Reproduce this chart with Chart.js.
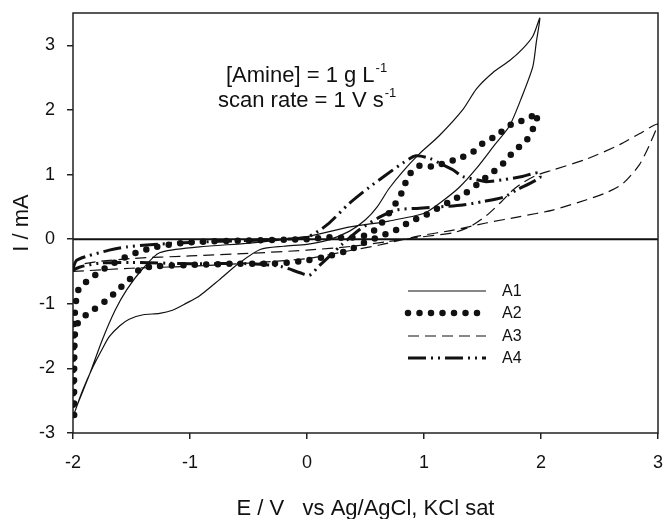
<!DOCTYPE html>
<html>
<head>
<meta charset="utf-8">
<script src="https://cdn.jsdelivr.net/npm/chart.js@4"></script>
<style>
html,body{margin:0;padding:0;background:#fff;}
#wrap{width:664px;height:519px;position:relative;}
</style>
</head>
<body>
<div id="wrap"><canvas id="chart"></canvas></div>
<script>
/* Cyclic voltammograms A1..A4, E (V vs Ag/AgCl) against I (mA)
   values, one x/y array pair per curve */
const seriesNames = ["A1", "A2", "A3", "A4"];
const xTicks = [-2, -1, 0, 1, 2, 3];
const yTicks = [-3, -2, -1, 0, 1, 2, 3];

const a1E = [-1.99,-1.92,-1.83,-1.75,-1.69,-1.6,-1.52,-1.4,-1.26,-1.15,-1.03,-0.92,-0.75,-0.58,-0.4,-0.2,0,0.17,0.36,0.5,0.6,0.7,0.82,0.96,1.13,1.33,1.45,1.59,1.73,1.84,1.93,1.99,
             1.96,1.93,1.84,1.73,1.6,1.45,1.3,1.15,1.0,0.7,0.37,0,-0.49,-0.92,-1.26,-1.41,-1.54,-1.64,-1.75,-1.86,-1.96,-1.99];
const a1I = [-2.7,-2.35,-1.98,-1.7,-1.51,-1.34,-1.24,-1.17,-1.15,-1.1,-0.99,-0.88,-0.63,-0.37,-0.16,-0.11,-0.08,-0.02,0.12,0.3,0.5,0.78,1.05,1.32,1.6,2.0,2.33,2.58,2.76,2.94,3.14,3.42,
             3.05,2.67,2.22,1.75,1.45,1.1,0.8,0.58,0.4,0.28,0.19,0.04,-0.06,-0.12,-0.21,-0.47,-0.78,-1.1,-1.56,-2.1,-2.55,-2.7];

const a2E = [-1.99,-1.99,-1.98,-1.94,-1.83,-1.71,-1.6,-1.52,-1.43,-1.3,-1.0,-0.6,-0.3,0,0.19,0.36,0.48,0.62,0.76,0.88,1.02,1.13,1.22,1.36,1.45,1.56,1.65,1.76,1.88,1.93,1.97,1.97,
             1.9,1.82,1.73,1.66,1.59,1.5,1.42,1.33,1.25,1.16,1.08,0.99,0.92,0.86,0.81,0.76,0.7,0.6,0.5,0.35,0.19,0,-0.5,-1.0,-1.29,-1.46,-1.6,-1.77,-1.86,-1.94,-1.97,-1.99,-2.0,-2.0];
const a2I = [-2.72,-2.0,-1.4,-1.25,-1.1,-0.94,-0.76,-0.63,-0.47,-0.42,-0.4,-0.38,-0.38,-0.33,-0.26,-0.17,-0.06,0.04,0.14,0.27,0.38,0.49,0.58,0.72,0.84,1.0,1.12,1.34,1.54,1.7,1.9,1.95,
             1.88,1.82,1.76,1.66,1.57,1.48,1.35,1.27,1.22,1.17,1.12,1.15,1.1,0.95,0.72,0.56,0.4,0.17,0.06,0.02,0.03,0.0,-0.02,-0.05,-0.12,-0.21,-0.32,-0.5,-0.63,-0.73,-0.9,-1.3,-2.0,-2.72];

const a3E = [-2,-1.5,-1,-0.5,0,0.3,0.62,0.96,1.25,1.53,1.82,2.1,2.39,2.56,2.7,2.84,2.93,3.0,
             2.84,2.67,2.39,2.1,1.95,1.85,1.76,1.65,1.53,1.39,1.25,0.96,0.68,0.39,0,-0.5,-1,-1.5,-1.9,-2];
const a3I = [-0.5,-0.45,-0.42,-0.37,-0.3,-0.2,-0.09,0.05,0.14,0.25,0.35,0.45,0.61,0.72,0.86,1.15,1.47,1.78,
             1.63,1.46,1.24,1.07,0.98,0.88,0.76,0.56,0.36,0.19,0.1,0.03,-0.04,-0.11,-0.17,-0.22,-0.26,-0.3,-0.38,-0.5];

const a4E = [-2,-1.97,-1.89,-1.69,-1.54,-1.37,-1.0,-0.5,-0.2,0,0.17,0.36,0.53,0.68,0.82,0.93,1.05,1.16,1.25,1.33,1.45,1.53,1.68,1.84,1.98,
             1.99,1.79,1.68,1.5,1.33,1.13,0.96,0.76,0.62,0.45,0.3,0.2,0.1,0.02,-0.06,-0.23,-0.5,-1.0,-1.5,-1.77,-1.94,-2];
const a4I = [-0.45,-0.33,-0.27,-0.17,-0.12,-0.09,-0.05,-0.02,0.0,0.03,0.22,0.55,0.8,1.0,1.18,1.29,1.25,1.15,1.07,0.97,0.92,0.89,0.92,0.97,1.03,
             0.95,0.76,0.65,0.58,0.53,0.5,0.48,0.45,0.34,0.15,-0.08,-0.25,-0.42,-0.56,-0.52,-0.42,-0.38,-0.38,-0.36,-0.37,-0.43,-0.48];

const FONT = '"Liberation Sans", Arial, sans-serif';
Chart.defaults.font.family = FONT;
Chart.defaults.color = "#111";

function pts(xs, ys){
  return xs.map((x,i)=>({x:x, y:ys[i]}));
}

// zero line + box round the plot area
const framePlugin = {
  id: "frame",
  beforeDatasetsDraw(chart){
    const {ctx, chartArea:a, scales} = chart;
    const y0 = scales.y.getPixelForValue(0);
    ctx.save();
    ctx.strokeStyle = "#111";
    ctx.lineWidth = 2;
    ctx.beginPath();
    ctx.moveTo(a.left, y0);
    ctx.lineTo(a.right, y0);
    ctx.stroke();
    ctx.lineWidth = 1.5;
    ctx.strokeStyle = "#222";
    ctx.strokeRect(a.left, a.top, a.right - a.left, a.bottom - a.top);
    ctx.restore();
  }
};

// legend inside plot + condition text
const notesPlugin = {
  id: "notes",
  afterDraw(chart){
    const ctx = chart.ctx;
    ctx.save();
    // legend
    const rows = [291, 313, 336, 358];
    chart.data.datasets.forEach((ds,i)=>{
      const y = rows[i];
      ctx.save();
      ctx.strokeStyle = ds.borderColor;
      ctx.lineWidth = ds.borderWidth;
      ctx.lineCap = ds.borderCapStyle || "butt";
      ctx.setLineDash(ds.borderDash || []);
      ctx.beginPath();
      ctx.moveTo(408, y);
      ctx.lineTo(486, y);
      ctx.stroke();
      ctx.restore();
      ctx.fillStyle = "#111";
      ctx.font = "16px " + FONT;
      ctx.textBaseline = "middle";
      ctx.fillText(ds.label, 502, y + 1);
    });
    // annotation
    ctx.textBaseline = "alphabetic";
    ctx.fillStyle = "#111";
    ctx.font = "22px " + FONT;
    const t1 = "[Amine] = 1 g L";
    ctx.fillText(t1, 226, 82);
    const w1 = ctx.measureText(t1).width;
    const t2 = "scan rate = 1 V s";
    ctx.fillText(t2, 218, 107);
    const w2 = ctx.measureText(t2).width;
    ctx.font = "13px " + FONT;
    ctx.fillText("-1", 226 + w1 + 1, 72);
    ctx.fillText("-1", 218 + w2 + 1, 97);
    ctx.restore();
  }
};

const datasets = [
  { label: seriesNames[0], data: pts(a1E, a1I), borderColor: "#111", borderWidth: 1.2, tension: 0.25 },
  { label: seriesNames[1], data: pts(a2E, a2I), borderColor: "#111", borderWidth: 6.5, borderDash: [0, 11.5], borderCapStyle: "round", tension: 0.25 },
  { label: seriesNames[2], data: pts(a3E, a3I), borderColor: "#111", borderWidth: 1.2, borderDash: [11, 6], tension: 0.25 },
  { label: seriesNames[3], data: pts(a4E, a4I), borderColor: "#111", borderWidth: 3, borderDash: [18, 5, 2, 5, 2, 5], tension: 0.25 }
];
datasets.forEach(d=>{ d.showLine = true; d.pointRadius = 0; d.fill = false; });

new Chart(document.getElementById("chart"), {
  type: "scatter",
  data: { datasets },
  options: {
    responsive: true,
    maintainAspectRatio: false,
    animation: false,
    layout: { padding: { top: 13, right: 6, left: 0, bottom: 0 } },
    plugins: { legend: { display: false }, tooltip: { enabled: false } },
    scales: {
      x: {
        type: "linear", min: -2, max: 3,
        afterBuildTicks: (s)=>{ s.ticks = xTicks.map(v=>({value:v})); },
        afterFit: (s)=>{ s.height = 86; s.paddingLeft = 0; s.paddingRight = 0; },
        border: { display: false },
        grid: { drawOnChartArea: false, drawTicks: true, tickLength: 6, color: "#222", lineWidth: 1.5 },
        ticks: { font: { size: 18 }, color: "#111", padding: 13 },
        title: { display: true, text: "E / V   vs Ag/AgCl, KCl sat", font: { size: 22, lineHeight: 0.9 }, color: "#111", padding: { top: 0, bottom: 0 } }
      },
      y: {
        type: "linear", min: -3, max: 3.5,
        afterBuildTicks: (s)=>{ s.ticks = yTicks.map(v=>({value:v})); },
        afterFit: (s)=>{ s.width = 73; s.paddingTop = 0; s.paddingBottom = 0; },
        border: { display: false },
        grid: { drawOnChartArea: false, drawTicks: true, tickLength: 6, color: "#222", lineWidth: 1.5 },
        ticks: { font: { size: 18 }, color: "#111", padding: 12 },
        title: { display: true, text: "I / mA", font: { size: 22, lineHeight: 1 }, color: "#111", padding: { top: 11, bottom: 0 } }
      }
    }
  },
  plugins: [framePlugin, notesPlugin]
});
</script>
</body>
</html>
